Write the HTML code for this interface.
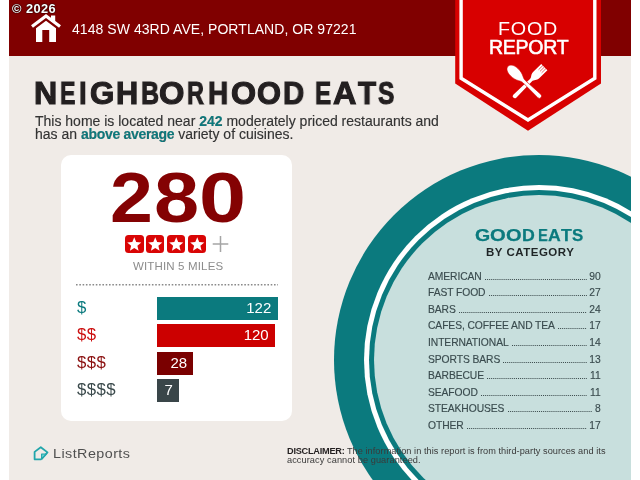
<!DOCTYPE html>
<html><head><meta charset="utf-8">
<style>
*{margin:0;padding:0;box-sizing:border-box}
html,body{width:640px;height:480px;overflow:hidden;background:#fff}
body{position:relative;font-family:"Liberation Sans",sans-serif}
.page{position:absolute;left:9px;top:0;width:621.6px;height:480px;background:#f0ebe7;overflow:hidden}
.abs{position:absolute;white-space:nowrap;line-height:1;will-change:transform}
.hdr{position:absolute;left:0;top:0;width:621.6px;height:55.8px;background:#800000}
.circ{position:absolute;border-radius:50%}
.card{position:absolute;left:52.4px;top:154.5px;width:231px;height:266.2px;background:#fff;border-radius:10px}
.bar{position:absolute;will-change:transform;left:157px;height:23px;color:#fff;font-size:15px;line-height:22px;text-align:right;padding-right:6.3px}
.lbl{position:absolute;will-change:transform;left:76.5px;font-size:16.8px;letter-spacing:0.4px;line-height:1}
.row{position:absolute;will-change:transform;left:428.3px;width:172.6px;height:10.3px;display:flex;align-items:flex-start;font-size:10.3px;letter-spacing:-0.08px;line-height:1;color:#3a4b4e;-webkit-text-stroke:0.15px #3a4b4e}
.row .d{flex:1;height:1.3px;margin:7.2px 2.8px 0 3.2px;background:linear-gradient(to right,#3b4a4c 0 1.1px,transparent 1.1px) 0 0/1.95px 1.3px repeat-x}
.star{position:absolute;top:235px;width:18.5px;height:18px;border-radius:3.5px;background:#d90505}
.star svg{position:absolute;left:0;top:0}
.hd span{position:absolute;top:78.7px;font-size:30.7px;font-weight:bold;line-height:1;color:#231f20;-webkit-text-stroke:1.1px #231f20;transform-origin:0 0;will-change:transform}
.big span{position:absolute;top:162px;font-size:71px;font-weight:bold;line-height:1;color:#840203;transform-origin:0 0;will-change:transform}
.ge span{position:absolute;top:228.4px;font-size:16.8px;font-weight:bold;line-height:1;color:#0b7a7e;-webkit-text-stroke:0.25px #0b7a7e;transform-origin:0 0;will-change:transform}
</style></head><body>
<div class="page">
  <div class="hdr"></div>
  <div class="circ" style="left:324.80px;top:154.80px;width:410.60px;height:410.60px;background:#0b7a7e"></div>
  <div class="circ" style="left:354.90px;top:184.90px;width:350.40px;height:350.40px;background:#fff"></div>
  <div class="circ" style="left:360.10px;top:190.10px;width:340.00px;height:340.00px;background:#0b7a7e"></div>
  <div class="circ" style="left:364.80px;top:194.80px;width:330.60px;height:330.60px;background:#c8dfdd"></div>
  <div class="card"></div>
</div>

<!-- copyright -->
<div class="abs" style="left:12px;top:2.5px;font-size:12.8px;letter-spacing:0.45px;font-weight:bold;color:#fff;text-shadow:0 0 1.5px #000,0 0 1px #000">© 2026</div>

<!-- house icon -->
<svg class="abs" style="left:0;top:0" width="80" height="56" viewBox="0 0 80 56">
  <polyline points="32,26.5 46,16 60,26.5" fill="none" stroke="#fff" stroke-width="3.2" stroke-linejoin="miter"/>
  <rect x="51" y="15.5" width="4.2" height="6" fill="#fff"/>
  <path d="M36,28.2 L46,20.8 L56,28.2 L56,42 L49.2,42 L49.2,30 L42.3,30 L42.3,42 L36,42 Z" fill="#fff"/>
</svg>

<!-- header text -->
<div class="abs" style="left:71.6px;top:21.6px;font-size:14px;letter-spacing:0.05px;color:#fff">4148 SW 43RD AVE, PORTLAND, OR 97221</div>

<!-- badge -->
<svg class="abs" style="left:0;top:0" width="640" height="140" viewBox="0 0 640 140">
  <polygon points="455.2,0 601,0 601,83.5 528,130.7 455.2,83.5" fill="#d80000"/>
  <polyline points="461.1,-2 461.1,78.3 528,120 594.8,78.3 594.8,-2" fill="none" stroke="#fff" stroke-width="3.4"/>
  <!-- fork -->
  <g transform="translate(513.3,97.6) rotate(45.5)">
    <path fill="#fff" d="M-2.1,-2.1 A2.1,2.1 0 0 0 2.1,-2.1 L1.5,-24.5 C1.5,-27.5 4.4,-28.5 4.4,-32 L4.4,-43.5 L-4.4,-43.5 L-4.4,-32 C-4.4,-28.5 -1.5,-27.5 -1.5,-24.5 Z"/>
    <g stroke="#d80000" stroke-width="0.75" opacity="0.75"><line x1="-2.2" y1="-44" x2="-2.2" y2="-37.5"/><line x1="0" y1="-44" x2="0" y2="-37.5"/><line x1="2.2" y1="-44" x2="2.2" y2="-37.5"/></g>
  </g>
  <!-- spoon -->
  <g transform="translate(541,97.6) rotate(-46.5)">
    <path fill="#fff" stroke="#d80000" stroke-width="0.6" d="M-2.25,-2.25 A2.25,2.25 0 0 0 2.25,-2.25 L1.6,-23 C1.6,-25 2.4,-26.5 3.2,-28 C4.6,-30.5 5.2,-33.5 5.2,-37 C5.2,-42 3,-45.5 0,-45.5 C-3,-45.5 -5.2,-42 -5.2,-37 C-5.2,-33.5 -4.6,-30.5 -3.2,-28 C-2.4,-26.5 -1.6,-25 -1.6,-23 Z"/>
  </g>
</svg>
<div class="abs" style="left:497.8px;top:20.5px;font-size:17.6px;letter-spacing:0.7px;color:#fff;transform:scaleX(1.12);transform-origin:0 0">FOOD</div>
<div class="abs" style="left:488.8px;top:37.7px;font-size:19.5px;letter-spacing:-0.25px;color:#fff;-webkit-text-stroke:0.55px #fff">REPORT</div>

<!-- heading -->
<div class="hd"><span style="left:34.01px;transform:scaleX(1.047)">N</span><span style="left:59.99px;transform:scaleX(0.756)">E</span><span style="left:79.02px;transform:scaleX(0.890)">I</span><span style="left:89.88px;transform:scaleX(1.019)">G</span><span style="left:115.77px;transform:scaleX(0.992)">H</span><span style="left:140.87px;transform:scaleX(0.816)">B</span><span style="left:159.24px;transform:scaleX(1.064)">O</span><span style="left:187.22px;transform:scaleX(0.762)">R</span><span style="left:208.18px;transform:scaleX(0.911)">H</span><span style="left:231.35px;transform:scaleX(1.050)">O</span><span style="left:257.40px;transform:scaleX(1.005)">O</span><span style="left:283.28px;transform:scaleX(0.958)">D</span><span style="left:315.23px;transform:scaleX(0.783)">E</span><span style="left:333.34px;transform:scaleX(1.057)">A</span><span style="left:358.30px;transform:scaleX(0.963)">T</span><span style="left:378.10px;transform:scaleX(0.800)">S</span></div>
<div class="abs" style="left:35px;top:113.65px;font-size:14px;color:#333;-webkit-text-stroke:0.15px #333">This home is located near <b style="color:#0b7a7e">242</b> moderately priced restaurants and</div>
<div class="abs" style="left:35px;top:126.65px;font-size:14px;color:#333;-webkit-text-stroke:0.15px #333">has an <b style="color:#0b7a7e;letter-spacing:-0.3px">above average</b> variety of cuisines.</div>

<!-- card content -->
<div class="big"><span style="left:109.83px;transform:scaleX(1.086)">2</span><span style="left:153.96px;transform:scaleX(1.143)">8</span><span style="left:198.93px;transform:scaleX(1.191)">0</span></div>
<div class="star" style="left:125.25px"><svg width="18.5" height="18" viewBox="-9.25 -9 18.5 18"><polygon fill="#fff" points="0.00,-6.70 1.94,-1.97 7.04,-1.59 3.14,1.72 4.35,6.69 0.00,4.00 -4.35,6.69 -3.14,1.72 -7.04,-1.59 -1.94,-1.97"/></svg></div>
<div class="star" style="left:145.9px"><svg width="18.5" height="18" viewBox="-9.25 -9 18.5 18"><polygon fill="#fff" points="0.00,-6.70 1.94,-1.97 7.04,-1.59 3.14,1.72 4.35,6.69 0.00,4.00 -4.35,6.69 -3.14,1.72 -7.04,-1.59 -1.94,-1.97"/></svg></div>
<div class="star" style="left:166.75px"><svg width="18.5" height="18" viewBox="-9.25 -9 18.5 18"><polygon fill="#fff" points="0.00,-6.70 1.94,-1.97 7.04,-1.59 3.14,1.72 4.35,6.69 0.00,4.00 -4.35,6.69 -3.14,1.72 -7.04,-1.59 -1.94,-1.97"/></svg></div>
<div class="star" style="left:187.5px"><svg width="18.5" height="18" viewBox="-9.25 -9 18.5 18"><polygon fill="#fff" points="0.00,-6.70 1.94,-1.97 7.04,-1.59 3.14,1.72 4.35,6.69 0.00,4.00 -4.35,6.69 -3.14,1.72 -7.04,-1.59 -1.94,-1.97"/></svg></div>
<svg class="abs" style="left:212px;top:235px" width="17" height="18" viewBox="0 0 17 18"><path d="M8.5,1 V17 M0.7,9 H16.3" stroke="#a5a5a5" stroke-width="1.5" fill="none"/></svg>
<div class="abs" style="left:132.5px;top:260.6px;font-size:11.5px;letter-spacing:0.15px;color:#8c8c8c">WITHIN 5 MILES</div>
<svg class="abs" style="left:0;top:0" width="300" height="300" viewBox="0 0 300 300"><line x1="76" y1="284.7" x2="278" y2="284.7" stroke="#8a8a8a" stroke-width="1.5" stroke-dasharray="1.6 1.7"/></svg>

<div class="lbl" style="top:299.5px;color:#0b7a7e">$</div>
<div class="lbl" style="top:327px;color:#cc1111">$$</div>
<div class="lbl" style="top:354.5px;color:#8b1111">$$$</div>
<div class="lbl" style="top:382px;color:#3b4a4c">$$$$</div>
<div class="bar" style="top:297px;width:120.6px;background:#0b7a7e">122</div>
<div class="bar" style="top:324.2px;width:118px;background:#cc0000">120</div>
<div class="bar" style="top:351.5px;width:36.4px;background:#7a0000">28</div>
<div class="bar" style="top:379.1px;width:22.1px;background:#3a4649">7</div>

<!-- right list -->
<div class="ge"><span style="left:474.79px;transform:scaleX(1.164)">G</span><span style="left:489.76px;transform:scaleX(1.205)">O</span><span style="left:505.76px;transform:scaleX(1.197)">O</span><span style="left:521.84px;transform:scaleX(1.058)">D</span><span style="left:538.04px;transform:scaleX(0.872)">E</span><span style="left:547.87px;transform:scaleX(1.054)">A</span><span style="left:560.79px;transform:scaleX(1.051)">T</span><span style="left:572.20px;transform:scaleX(1.010)">S</span></div>
<div class="abs" style="left:486px;top:246.9px;font-size:11.5px;letter-spacing:0.5px;font-weight:bold;color:#1f2526">BY CATEGORY</div>

<div class="row" style="top:271.78px"><span>AMERICAN</span><span class="d"></span><span>90</span></div>
<div class="row" style="top:288.35px"><span>FAST FOOD</span><span class="d"></span><span>27</span></div>
<div class="row" style="top:304.92px"><span>BARS</span><span class="d"></span><span>24</span></div>
<div class="row" style="top:321.49px"><span>CAFES, COFFEE AND TEA</span><span class="d"></span><span>17</span></div>
<div class="row" style="top:338.06px"><span>INTERNATIONAL</span><span class="d"></span><span>14</span></div>
<div class="row" style="top:354.63px"><span>SPORTS BARS</span><span class="d"></span><span>13</span></div>
<div class="row" style="top:371.20px"><span>BARBECUE</span><span class="d"></span><span>11</span></div>
<div class="row" style="top:387.77px"><span>SEAFOOD</span><span class="d"></span><span>11</span></div>
<div class="row" style="top:404.34px"><span>STEAKHOUSES</span><span class="d"></span><span>8</span></div>
<div class="row" style="top:420.91px"><span>OTHER</span><span class="d"></span><span>17</span></div>

<!-- disclaimer -->
<div class="abs" style="left:286.5px;top:446.7px;font-size:9.2px;letter-spacing:0.05px;color:#3a3a3a"><b style="color:#231f20;letter-spacing:-0.25px">DISCLAIMER:</b> The information in this report is from third-party sources and its</div>
<div class="abs" style="left:286.5px;top:455.6px;font-size:9.2px;letter-spacing:0.08px;color:#3a3a3a">accuracy cannot be guaranteed.</div>

<!-- logo -->
<svg class="abs" style="left:30px;top:443px" width="22" height="20" viewBox="30 443 22 20">
  <path d="M41.3,459.3 L34.6,459.3 L34.6,451.9 L40.8,447.2 L47.5,452.4 L41.3,459.3" fill="none" stroke="#22a6ab" stroke-width="1.8" stroke-linejoin="round"/>
  <path d="M41.6,458.8 L41.6,454 L46.3,454 Z" fill="#6ad3d4" stroke="#22a6ab" stroke-width="1.1" stroke-linejoin="round"/>
</svg>
<div class="abs" style="left:53.2px;top:448.1px;font-size:12.8px;letter-spacing:0.4px;color:#505050;transform:scaleX(1.12);transform-origin:0 0">ListReports</div>
</body></html>
